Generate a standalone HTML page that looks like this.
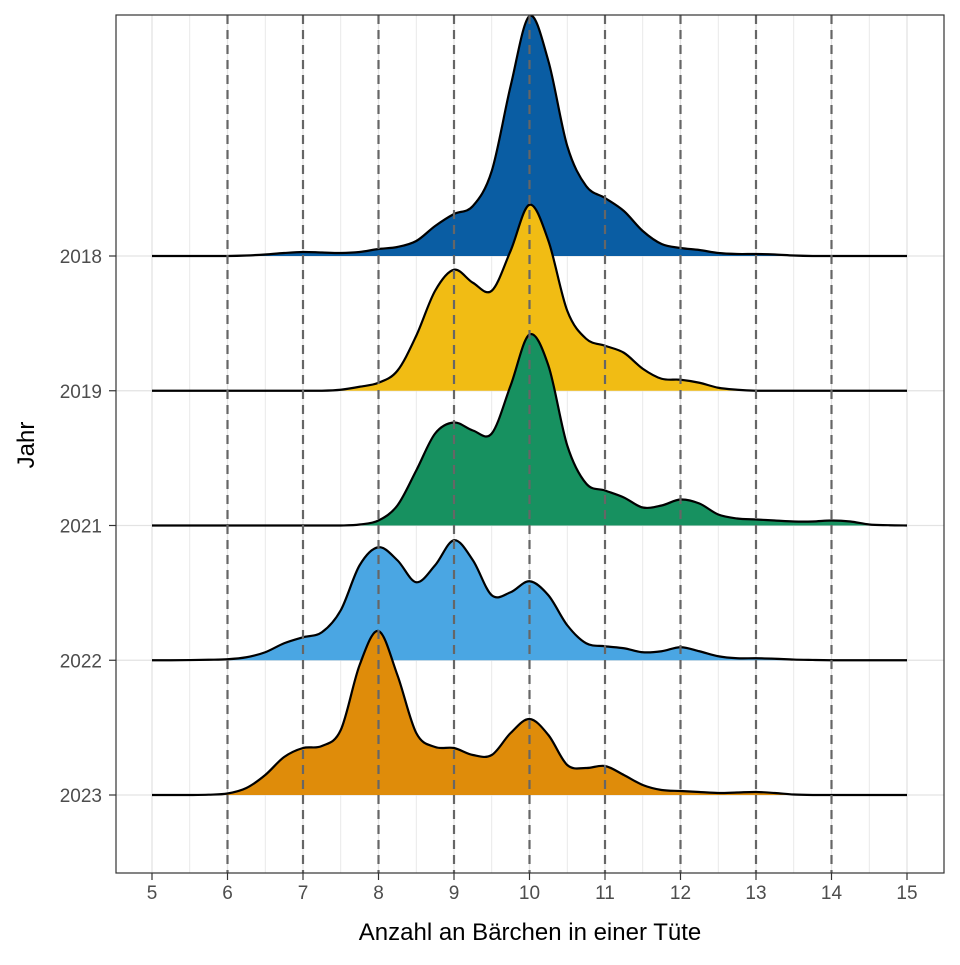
<!DOCTYPE html>
<html><head><meta charset="utf-8"><style>
body{margin:0;background:#fff}
svg text{font-family:"Liberation Sans",Arial,sans-serif}
</style></head><body>
<svg id="chart" width="960" height="960" xmlns="http://www.w3.org/2000/svg">
<rect width="960" height="960" fill="#fff"/>
<g id="grid"></g>
<g id="ridges"></g>
<g id="dashes"></g>
<rect x="116" y="15" width="828" height="858" fill="none" stroke="#333" stroke-width="1.2"/>
<g id="axes"></g>
<text x="530" y="940" font-size="24" text-anchor="middle" fill="#000">Anzahl an Bärchen in einer Tüte</text>
<text x="34" y="445" font-size="24" text-anchor="middle" fill="#000" transform="rotate(-90 34 445)">Jahr</text>
</svg>
<script>
const years = ["2018","2019","2021","2022","2023"];
const colors = ["#0a5da3","#f1bc14","#179160","#4aa6e3","#df8c0a"];
const xTicks = [5,6,7,8,9,10,11,12,13,14,15];
const dashedX = [6,7,8,9,10,11,12,13,14];
const xStart = 5, xStep = 0.25;
const d2018 = [0,0,0,0,0,0.5,1.5,3,4,3.5,3,4,7,9,15,30,42,50,85,170,240,195,110,70,58,45,25,12,8,6,3,2,2,1.5,0.5,0,0,0,0,0,0];
const d2019 = [0,0,0,0,0,0,0,0,0,0,1,4,8,20,55,100,121,108,100,140,186,150,80,52,45,38,22,12,11,8,3,1,0,0,0,0,0,0,0,0,0];
const d2021 = [0,0,0,0,0,0,0,0,0,0,0,1,5,20,55,92,103,95,92,140,191,160,80,42,35,28,18,20,26,22,11,7,6,5,4,4,5,4,1,0.3,0];
const d2022 = [0,0,0.2,0.5,1,3,8,17,23,28,50,95,113,100,78,95,120,100,65,68,79,65,35,17,14,12,8,9,13,9,4,2,2,1.5,0.7,0.3,0,0,0,0,0];
const d2023 = [0,0,0,0.3,1.5,7,20,38,47,49,65,130,164,120,62,48,47,40,40,62,76,60,30,27,29,20,10,5,4,3,2,2.5,3,2,0.5,0,0,0,0,0,0];
const series = [d2018,d2019,d2021,d2022,d2023];

const NS="http://www.w3.org/2000/svg";
const X = v => 152 + (v-5)*75.5;
const baseY = i => 256 + i*134.75;
const Y = (i,v) => baseY(i) - v;
function mk(tag,attrs,parent){const e=document.createElementNS(NS,tag);for(const k in attrs)e.setAttribute(k,attrs[k]);parent.appendChild(e);return e;}
const grid=document.getElementById('grid'), ridges=document.getElementById('ridges'), dashes=document.getElementById('dashes'), axes=document.getElementById('axes');
for(let v=5;v<=15;v+=0.5){
  const l=mk('line',{x1:X(v),x2:X(v),y1:15,y2:873,stroke:'#e3e3e3','stroke-width':Number.isInteger(v)?1.3:0.8},grid);
  
  
}
years.forEach((y,i)=>{
  const l=mk('line',{x1:116,x2:944,y1:baseY(i),y2:baseY(i),stroke:'#e3e3e3','stroke-width':1.3},grid);
  
  
});
function pathFor(i,data){
  const pts=data.map((v,k)=>[X(xStart+k*xStep),Y(i,v)]);
  let d=`M${pts[0][0]},${pts[0][1]}`;
  for(let k=0;k<pts.length-1;k++){
    const p0=pts[Math.max(0,k-1)],p1=pts[k],p2=pts[k+1],p3=pts[Math.min(pts.length-1,k+2)];
    const c1=[p1[0]+(p2[0]-p0[0])/6,p1[1]+(p2[1]-p0[1])/6];
    const c2=[p2[0]-(p3[0]-p1[0])/6,p2[1]-(p3[1]-p1[1])/6];
    c1[1]=Math.min(c1[1],baseY(i));c2[1]=Math.min(c2[1],baseY(i));
    d+=` C${c1[0]},${c1[1]} ${c2[0]},${c2[1]} ${p2[0]},${p2[1]}`;
  }
  return d;
}
series.forEach((data,i)=>{
  const line=pathFor(i,data);
  const fill=mk('path',{d:line+` L${X(15)},${baseY(i)} L${X(5)},${baseY(i)} Z`,fill:colors[i],stroke:'none'},ridges);
  
  
  const ln=mk('path',{d:line,fill:'none',stroke:'#000','stroke-width':2.2},ridges);
  
  
});
dashedX.forEach(v=>{
  const l=mk('line',{x1:X(v),x2:X(v),y1:15,y2:873,stroke:'#666','stroke-width':2.2,'stroke-dasharray':'9,6'},dashes);
  
  
});
xTicks.forEach(v=>{
  const t=mk('line',{x1:X(v),x2:X(v),y1:873,y2:880,stroke:'#333','stroke-width':1.2},axes);
  
  
  const lb=mk('text',{x:X(v),y:899,'font-size':19,'text-anchor':'middle',fill:'#4d4d4d'},axes);
  lb.textContent=v;
  
  
});
years.forEach((y,i)=>{
  const t=mk('line',{x1:109,x2:116,y1:baseY(i),y2:baseY(i),stroke:'#333','stroke-width':1.2},axes);
  
  
  const lb=mk('text',{x:102,y:baseY(i)+7,'font-size':19,'text-anchor':'end',fill:'#4d4d4d'},axes);
  lb.textContent=y;
  
  
});
</script>
</body></html>
